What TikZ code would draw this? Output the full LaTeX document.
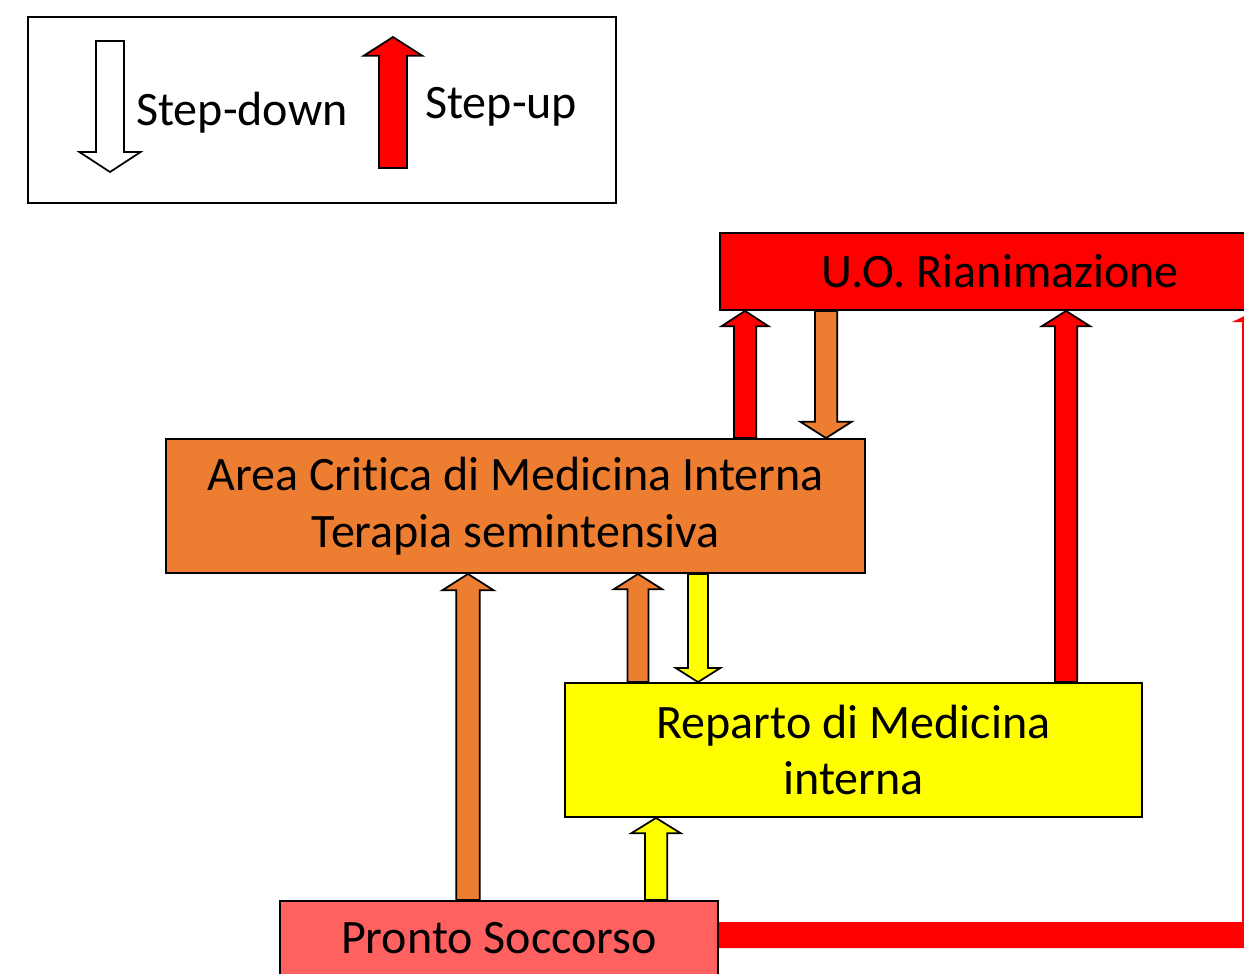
\documentclass[tikz,border=0pt]{standalone}
\usepackage{fontspec}
\setmainfont{Carlito}[Ligatures=NoCommon]
\usetikzlibrary{calc}
\definecolor{corange}{HTML}{ED7D31}
\definecolor{cps}{HTML}{FF6161}
\definecolor{cred}{HTML}{FF0000}
\definecolor{cyel}{HTML}{FFFF00}
% #1 fill, #2 start, #3 tip, #4 shaft half width, #5 head half width, #6 head length
\newcommand\blockarr[6]{%
  \filldraw[barr, fill=#1] let \p1=#2, \p2=#3, \n1={sign(\y2-\y1)} in
    (\x1-#4,\y1) -- (\x1-#4,\y2-\n1*#6) -- (\x1-#5,\y2-\n1*#6) -- (\x1,\y2)
    -- (\x1+#5,\y2-\n1*#6) -- (\x1+#4,\y2-\n1*#6) -- (\x1+#4,\y1) -- cycle;}
\begin{document}
\begin{tikzpicture}[x=0.03cm, y=-0.03cm,
  box/.style={draw=black, line width=1.6pt, inner sep=0pt, align=center,
    font=\fontsize{41}{48.5}\selectfont},
  barr/.style={draw=black, line width=1.5pt, line join=miter}]
\useasboundingbox (0,0) rectangle (1244,973);
\clip (0,0) rectangle (1244,973);
% legend
\node[box, minimum width=17.64cm, minimum height=5.58cm] (legend) at (322,110) {};
\coordinate (ld1) at (110,41);
\coordinate (ld2) at (110,172);
\coordinate (lu1) at (393,168);
\coordinate (lu2) at (393,37);
\blockarr{white}{(ld1)}{(ld2)}{12pt}{26pt}{17pt}
\blockarr{cred}{(lu1)}{(lu2)}{12pt}{25pt}{16pt}
\node[anchor=west, inner sep=0pt, font=\fontsize{41}{48}\selectfont] (lsd) at (136,113) {Step-down};
\node[anchor=west, inner sep=0pt, font=\fontsize{41}{48}\selectfont] (lsu) at (425,107) {Step-up};
% boxes
\node[box, fill=cred, minimum width=16.8cm, minimum height=2.31cm] (rian) at (1000,271.5) {U.O. Rianimazione};
\node[box, fill=corange, minimum width=20.97cm, minimum height=4.02cm] (area) at (515.5,506)
  {\raisebox{-2pt}{\parbox{20cm}{\centering Area Critica di Medicina Interna\\Terapia semintensiva}}};
\node[box, fill=cyel, minimum width=17.31cm, minimum height=4.02cm] (rep) at (853.5,750)
  {Reparto di Medicina\\interna};
\node[box, fill=cps, minimum width=13.14cm, minimum height=2.22cm] (ps) at (499,938) {Pronto Soccorso};
% connectors
\blockarr{cred}{(745,0 |- area.north)}{(745,0 |- rian.south)}{9.5pt}{20pt}{13pt}
\blockarr{corange}{(826,0 |- rian.south)}{(826,0 |- area.north)}{9.5pt}{22pt}{14pt}
\blockarr{cred}{(1066,0 |- rep.north)}{(1066,0 |- rian.south)}{9.5pt}{20.5pt}{13pt}
\blockarr{corange}{(468,0 |- ps.north)}{(468,0 |- area.south)}{10pt}{22pt}{14pt}
\blockarr{corange}{(638,0 |- rep.north)}{(638,0 |- area.south)}{9pt}{20.5pt}{13pt}
\blockarr{cyel}{(698,0 |- area.south)}{(698,0 |- rep.north)}{8.5pt}{19pt}{12pt}
\blockarr{cyel}{(656,0 |- ps.north)}{(656,0 |- rep.south)}{9.5pt}{21pt}{13pt}
% elbow arrow PS -> Rianimazione (mostly outside the frame)
\coordinate (elb) at ($(1255,0 |- ps.east)+(0,-3)$);
\fill[cred] ($(ps.east)+(0,-16)$) -- ($(elb)+(-13,-13)$) -- (1242,322) -- (1232,322)
  -- (1255,0 |- rian.south) -- (1278,322) -- (1268,322) -- ($(elb)+(13,13)$) -- ($(ps.east)+(0,10)$) -- cycle;
\end{tikzpicture}
\end{document}
